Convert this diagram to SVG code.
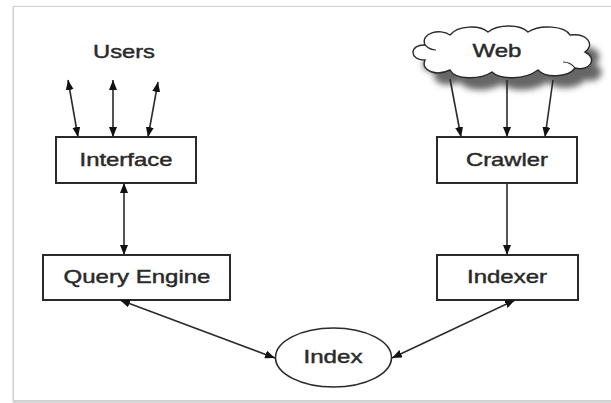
<svg xmlns="http://www.w3.org/2000/svg" width="611" height="403" viewBox="0 0 611 403">
  <defs>
    <marker id="ah" viewBox="0 0 10 8" refX="10" refY="4" markerWidth="10" markerHeight="8" markerUnits="userSpaceOnUse" orient="auto-start-reverse">
      <path d="M0,0 L10,4 L0,8 z" fill="#111"/>
    </marker>
    <filter id="blur" x="-20%" y="-40%" width="140%" height="180%">
      <feGaussianBlur stdDeviation="3"/>
    </filter>
    <filter id="fshadow" x="-5%" y="-5%" width="110%" height="110%">
      <feGaussianBlur stdDeviation="1.2"/>
    </filter>
  </defs>
  <style>
    .box { fill: #fff; stroke: #2a2a2a; stroke-width: 2; }
    .lbl { font-family: "Liberation Sans", Arial, sans-serif; font-size: 19px; fill: #2a2a2a; stroke: #2a2a2a; stroke-width: 0.45; text-anchor: middle; }
    .conn { stroke: #2a2a2a; stroke-width: 1.6; fill: none; }
    .one { marker-end: url(#ah); }
    .two { marker-start: url(#ah); marker-end: url(#ah); }
  </style>
  <rect width="611" height="403" fill="#fff"/>
  <!-- frame -->
  <rect x="14" y="8" width="620" height="394" fill="none" stroke="#bbb" stroke-width="2" filter="url(#fshadow)"/>
  <rect x="13.5" y="6.5" width="620" height="394" fill="#fff" stroke="#d0d0d0" stroke-width="1"/>

  <g id="users">
    <text class="lbl" x="124" y="58" textLength="62" lengthAdjust="spacingAndGlyphs">Users</text>
  </g>

  <g id="web">
    <path d="M425,60 C408,60 410,44 425,45 C420,33 440,28 450,35 C458,25 480,25 488,32 C498,24 520,24 528,32 C540,24 565,26 570,35 C588,33 595,45 585,52 C598,58 590,72 575,68 C568,78 545,78 538,70 C525,80 500,80 492,72 C480,80 455,80 450,70 C438,76 420,72 425,60 Z" fill="#666" transform="translate(10,12)" filter="url(#blur)"/>
    <path d="M425,60 C408,60 410,44 425,45 C420,33 440,28 450,35 C458,25 480,25 488,32 C498,24 520,24 528,32 C540,24 565,26 570,35 C588,33 595,45 585,52 C598,58 590,72 575,68 C568,78 545,78 538,70 C525,80 500,80 492,72 C480,80 455,80 450,70 C438,76 420,72 425,60 Z" fill="#fff" stroke="#2a2a2a" stroke-width="1.4"/>
    <path d="M425,45 C428,48 432,50 436,50" fill="none" stroke="#2a2a2a" stroke-width="1.2"/>
    <path d="M575,68 C572,64 568,62 563,62" fill="none" stroke="#2a2a2a" stroke-width="1.2"/>
    <text class="lbl" x="497" y="57" textLength="49" lengthAdjust="spacingAndGlyphs">Web</text>
  </g>

  <g id="interface">
    <rect class="box" x="56" y="137" width="140" height="46"/>
    <text class="lbl" x="126" y="166" textLength="93" lengthAdjust="spacingAndGlyphs">Interface</text>
  </g>

  <g id="crawler">
    <rect class="box" x="437" y="137" width="140" height="46"/>
    <text class="lbl" x="507" y="166" textLength="82" lengthAdjust="spacingAndGlyphs">Crawler</text>
  </g>

  <g id="query-engine">
    <rect class="box" x="43" y="255" width="187" height="45"/>
    <text class="lbl" x="137" y="283" textLength="147" lengthAdjust="spacingAndGlyphs">Query Engine</text>
  </g>

  <g id="indexer">
    <rect class="box" x="437" y="255" width="141" height="45"/>
    <text class="lbl" x="507" y="283" textLength="80" lengthAdjust="spacingAndGlyphs">Indexer</text>
  </g>

  <g id="index">
    <ellipse cx="333.5" cy="357.5" rx="58" ry="29.5" fill="#fff" stroke="#2a2a2a" stroke-width="1.6"/>
    <text class="lbl" x="333" y="363" textLength="59" lengthAdjust="spacingAndGlyphs">Index</text>
  </g>

  <g id="connectors">
    <line class="conn two" x1="68" y1="80" x2="78" y2="137"/>
    <line class="conn two" x1="113" y1="80" x2="113" y2="137"/>
    <line class="conn two" x1="158" y1="82" x2="148" y2="137"/>
    <line class="conn two" x1="124" y1="183" x2="124" y2="255"/>
    <line class="conn one" x1="450" y1="79" x2="461" y2="137"/>
    <line class="conn one" x1="507" y1="80" x2="507" y2="137"/>
    <line class="conn one" x1="553" y1="80" x2="545" y2="137"/>
    <line class="conn one" x1="507" y1="183" x2="507" y2="255"/>
    <line class="conn two" x1="120" y1="300" x2="275" y2="358"/>
    <line class="conn two" x1="515" y1="300" x2="392" y2="358"/>
  </g>
</svg>
